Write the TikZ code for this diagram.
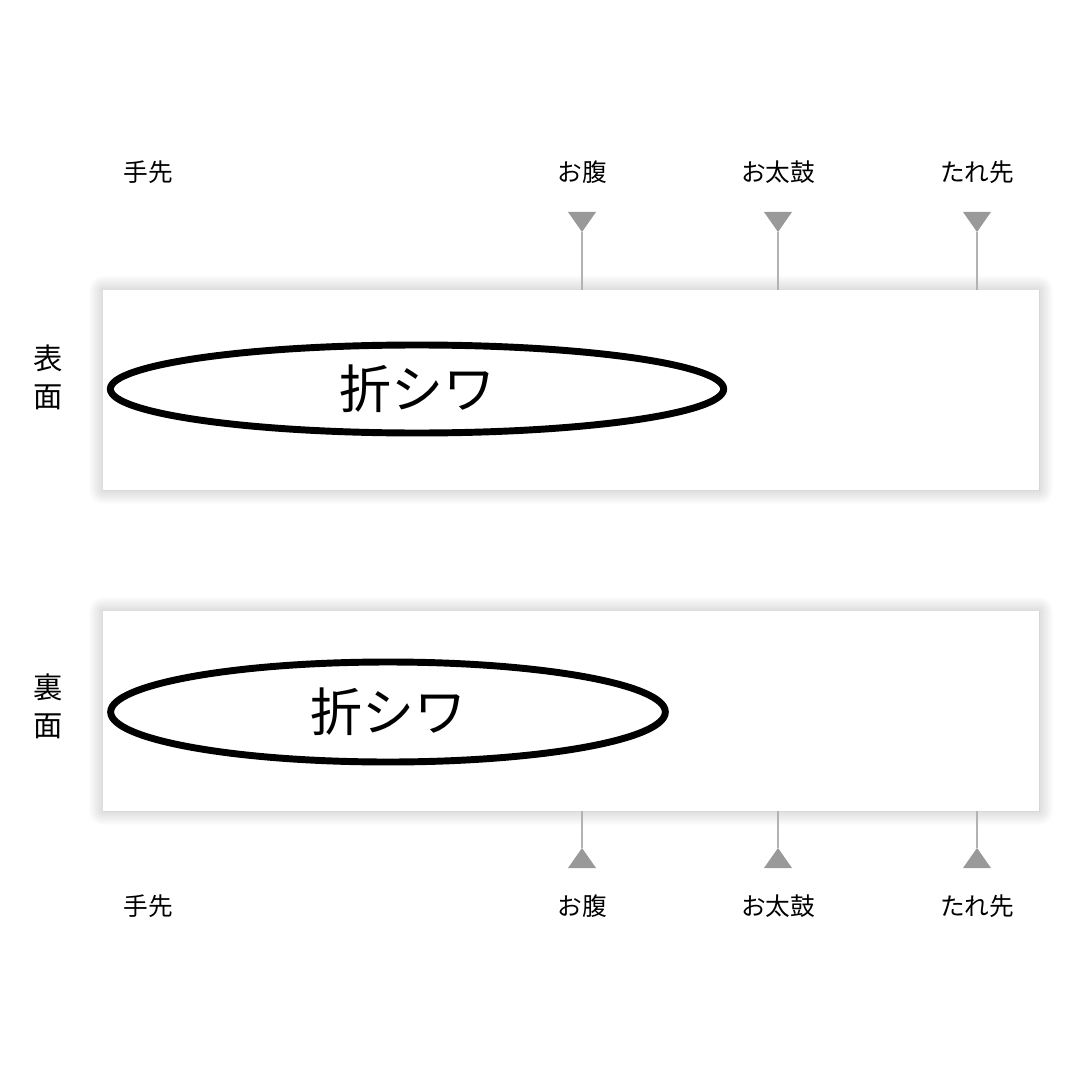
\documentclass[tikz,border=0pt]{standalone}
\usepackage{fontspec}
\setmainfont{Noto Sans CJK JP}
\usetikzlibrary{shadows.blur}
\usetikzlibrary{shapes}

\definecolor{markgray}{RGB}{153,153,153}
\definecolor{guidegray}{RGB}{178,178,178}

\tikzset{
  obi/.style={fill=white, draw=none, inner sep=0pt, minimum width=702pt, minimum height=150pt,
    blur shadow={shadow xshift=0pt, shadow yshift=0pt, shadow blur radius=11pt, shadow blur steps=16, shadow opacity=28}},
  fold/.style={ellipse, draw=black, line width=5.2pt, inner sep=0pt, font=\fontsize{39}{43}\selectfont},
  place/.style={font=\fontsize{18.5}{21}\selectfont},
  side/.style={align=center, font=\fontsize{22}{28.5}\selectfont},
  guide/.style={draw=guidegray, line width=1.1pt},
  pointer/.style={fill=markgray}
}

\begin{document}
\begin{tikzpicture}[x=0.75pt,y=0.75pt,yscale=-1,xscale=1]

    \useasboundingbox (0,0) rectangle (1080,1080);

    %Shape: Rectangle [front side]
    \node[obi] (front) at (571,390) {};
    %Shape: Rectangle [back side]
    \node[obi] (back) at (571,711) {};

    %Shape: Ellipse
    \node[fold, minimum width=460pt, minimum height=66pt] (foldf) at (417,389) {折シワ};
    %Shape: Ellipse
    \node[fold, minimum width=416pt, minimum height=75pt] (foldb) at (388,712) {折シワ};

    %Text sides
    \node[side] (omote) at (48,377) {表\\面};
    \node[side] (ura) at (48,706) {裏\\面};

    %Text top labels
    \node[place] (tesaki-t) at (148,172) {手先};
    \node[place] (hara-lt) at (582,172) {お腹};
    \node[place] (taiko-lt) at (778,172) {お太鼓};
    \node[place] (tare-lt) at (977,172) {たれ先};
    %Text bottom labels
    \node[place] (tesaki-b) at (148,906) {手先};
    \node[place] (hara-lb) at (582,906) {お腹};
    \node[place] (taiko-lb) at (778,906) {お太鼓};
    \node[place] (tare-lb) at (977,906) {たれ先};

    %Markers
    \foreach \x/\n in {582/hara, 778/taiko, 977/tare}{
      \coordinate (\n-t) at (\x,232);
      \coordinate (\n-b) at (\x,848);
      \draw[guide] (\n-t) -- (\n-t |- front.north);
      \draw[guide] (back.south -| \n-b) -- (\n-b);
      \fill[pointer] (\n-t) -- ++(-14,-20) -- ++(28,0) -- cycle;
      \fill[pointer] (\n-b) -- ++(-14,20) -- ++(28,0) -- cycle;
    }

\end{tikzpicture}
\end{document}
